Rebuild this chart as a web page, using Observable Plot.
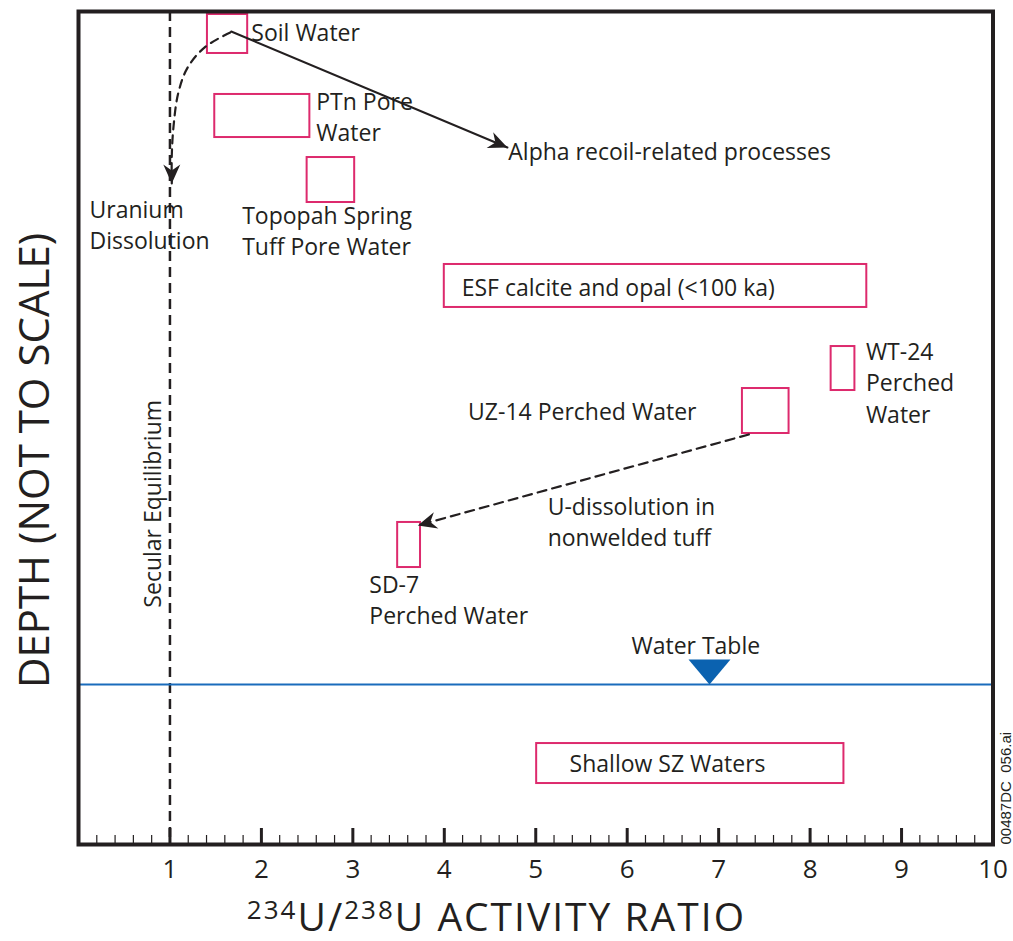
<!DOCTYPE html>
<html><head><meta charset="utf-8">
<script src="https://cdn.jsdelivr.net/npm/d3@7"></script>
<script src="https://cdn.jsdelivr.net/npm/@observablehq/plot@0.6"></script>
<style>body{margin:0;background:#fff} svg{display:block}</style>
</head><body><div id="chart"></div>
<script>
// ---- data (x = 234U/238U activity ratio, y = relative depth 0 top .. 100 bottom, not to scale)
const boxNames = ["Soil Water","PTn Pore Water","Topopah Spring Tuff Pore Water","ESF calcite and opal","WT-24 Perched Water","UZ-14 Perched Water","SD-7 Perched Water","Shallow SZ Waters"];
const boxX1 = [1.41, 1.49, 2.50, 4.00, 8.23, 7.26, 3.49, 5.01];
const boxX2 = [1.85, 2.53, 3.02, 8.62, 8.49, 7.77, 3.74, 8.37];
const boxY1 = [0.36, 9.96, 17.53, 30.37, 40.22, 45.26, 61.34, 87.88];
const boxY2 = [5.04, 15.13, 22.93, 35.53, 45.50, 50.66, 66.75, 92.68];

const labelText = ["Soil Water","PTn Pore\nWater","Topopah Spring\nTuff Pore Water","Alpha recoil-related processes","Uranium\nDissolution","ESF calcite and opal (<100 ka)","WT-24\nPerched\nWater","UZ-14 Perched Water","U-dissolution in\nnonwelded tuff","SD-7\nPerched Water","Shallow SZ Waters"];
const labelX = [1.89, 2.60, 1.79, 4.70, 0.12, 4.19, 8.61, 4.26, 5.13, 3.18, 5.37];
const labelY = [2.40, 12.48, 26.17, 16.63, 25.45, 32.95, 44.42, 47.9, 61.16, 70.53, 90.16];

const secularRatio = [1];
const secularLabel = ["Secular Equilibrium"];
const secularLabelX = [0.817], secularLabelY = [59.1];

const waterTableDepth = [80.79];
const waterTableMarkX = [6.90];
const waterTableLabel = ["Water Table"], waterTableLabelX = [6.75], waterTableLabelY = [76.23];

const alphaArrowX = [1.67, 4.69];
const alphaArrowY = [2.40, 16.33];
const uDissArrowX = [7.33, 3.71];
const uDissArrowY = [50.78, 61.70];
const uranCurveX = [1.66, 1.38, 1.19, 1.09, 1.04, 1.02, 1.02];
const uranCurveY = [2.52, 4.30, 6.80, 9.84, 13.69, 17.29, 20.65];

const majorTicks = [1, 2, 3, 4, 5, 6, 7, 8, 9, 10];
const minorTicks = d3.range(1, 50).map(i => i / 5).filter(v => !Number.isInteger(v));

const xTitle = "234U/238U ACTIVITY RATIO";
const yTitle = "DEPTH (NOT TO SCALE)";
const fileId = "00487DC\u00a0 056.ai";

// ---- layout
const W = 1013, H = 941, mL = 78, mR = 20.5, mT = 11, mB = 97;
const kx = (W - mL - mR) / 10, ky = (H - mT - mB) / 100;
const ink = "#231f20", pink = "#dd2a6d", blue = "#1a6cbc";

const boxes = boxNames.map((n, i) => ({n, x1: boxX1[i], x2: boxX2[i], y1: boxY1[i], y2: boxY2[i]}));
const labels = labelText.map((t, i) => ({t, x: labelX[i], y: labelY[i]}));
const toPts = (X, Y) => X.map((x, i) => ({x, y: Y[i]}));
const alphaPts = toPts(alphaArrowX, alphaArrowY);
const uDissPts = toPts(uDissArrowX, uDissArrowY);
const curvePts = toPts(uranCurveX, uranCurveY);
function head(pts) {
  const a = pts[pts.length - 2], b = pts[pts.length - 1];
  return {x: b.x, y: b.y, angle: Math.atan2((b.y - a.y) * ky, (b.x - a.x) * kx) * 180 / Math.PI};
}
const heads = [head(alphaPts), head(uDissPts), head(curvePts)];

const arrowHead = {draw(ctx) { ctx.moveTo(0, 0); ctx.lineTo(-19, -8.5); ctx.lineTo(-13, 0); ctx.lineTo(-19, 8.5); ctx.closePath(); }};
const wtTriangle = {draw(ctx) { ctx.moveTo(-21, -25); ctx.lineTo(21, -25); ctx.lineTo(0, 0); ctx.closePath(); }};

const svg = Plot.plot({
  width: W, height: H,
  marginLeft: mL, marginRight: mR, marginTop: mT, marginBottom: mB,
  style: {fontFamily: "'Open Sans', sans-serif", color: ink, background: "#fff"},
  x: {domain: [0, 10]},
  y: {domain: [0, 100], reverse: true, axis: null},
  marks: [
    Plot.ruleX(secularRatio, {x: d => d, stroke: ink, strokeWidth: 2.5, strokeDasharray: "10,6"}),
    Plot.ruleY(waterTableDepth, {y: d => d, stroke: blue, strokeWidth: 2}),
    Plot.dot(waterTableMarkX, {x: d => d, y: () => waterTableDepth[0], symbol: wtTriangle, fill: "#0b62b0", stroke: "none"}),
    Plot.rect(boxes, {x1: "x1", x2: "x2", y1: "y1", y2: "y2", fill: "none", stroke: pink, strokeWidth: 2}),
    Plot.line(alphaPts, {x: "x", y: "y", stroke: ink, strokeWidth: 2}),
    Plot.line(uDissPts, {x: "x", y: "y", stroke: ink, strokeWidth: 2.2, strokeDasharray: "9,6"}),
    Plot.line(curvePts, {x: "x", y: "y", stroke: ink, strokeWidth: 2.2, strokeDasharray: "8,6", curve: "catmull-rom"}),
    Plot.dot(heads, {x: "x", y: "y", rotate: "angle", symbol: arrowHead, fill: ink, stroke: "none"}),
    Plot.text(labels, {x: "x", y: "y", text: "t", textAnchor: "start", lineAnchor: "middle", fontSize: 23, lineHeight: 1.35, fill: ink}),
    Plot.text(secularLabel, {x: secularLabelX, y: secularLabelY, text: d => d, rotate: -90, fontSize: 23, fill: ink}),
    Plot.text(waterTableLabel, {x: waterTableLabelX, y: waterTableLabelY, text: d => d, fontSize: 23, fill: ink}),
    Plot.text([yTitle], {y: [53.9], frameAnchor: "left", textAnchor: "middle", dx: -43, rotate: -90, text: d => d, fontSize: 42, fill: ink}),
    Plot.text([xTitle], {x: [4.57], frameAnchor: "bottom", textAnchor: "middle", dy: 86, text: d => d, fontSize: 39, fill: ink}),
    Plot.text([fileId], {y: [100], frameAnchor: "right", dx: 13, rotate: -90, textAnchor: "start", text: d => d, fontSize: 15, fontFamily: "'Liberation Sans', Arial, sans-serif", fill: ink}),
    Plot.ruleX(minorTicks, {x: d => d, insetTop: (H - mT - mB) - 9, stroke: ink, strokeWidth: 1.2}),
    Plot.ruleX(majorTicks, {x: d => d, insetTop: (H - mT - mB) - 16, stroke: ink, strokeWidth: 3}),
    Plot.axisX({ticks: majorTicks, tickSize: 0, tickPadding: 15, fontSize: 26, label: null, tickFormat: d => String(d), fill: ink}),
    Plot.frame({stroke: ink, strokeWidth: 4})
  ]
});

// superscript mass numbers in the x title
d3.select(svg).selectAll("text").filter(function() { return this.textContent === xTitle; }).each(function() {
  const t = d3.select(this).text(null).attr("letter-spacing", 2);
  t.append("tspan").attr("font-size", 26).attr("dy", -12).text("234");
  t.append("tspan").attr("dy", 12).text("U/");
  t.append("tspan").attr("font-size", 26).attr("dy", -12).text("238");
  t.append("tspan").attr("dy", 12).text("U ACTIVITY RATIO");
});

document.getElementById("chart").appendChild(svg);
</script>
</body></html>
